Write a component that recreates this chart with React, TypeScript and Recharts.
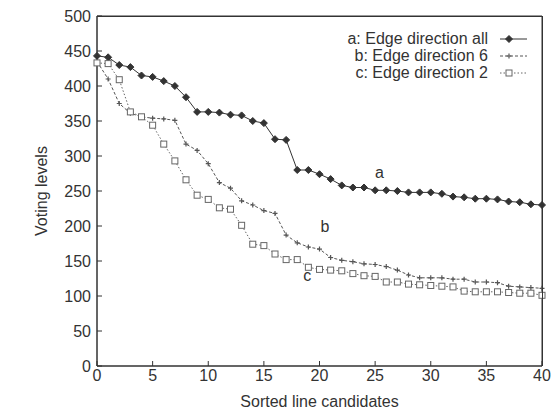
import {
  Line,
  LineChart,
  ReferenceArea,
  ReferenceDot,
  XAxis,
  YAxis,
} from "recharts";

const candidates = Array.from({ length: 41 }, (_, i) => i);

const edgeAll = [
  443, 441, 430, 427, 415, 413, 407, 400, 384, 363, 363, 362, 359, 358, 350,
  347, 324, 323, 280, 280, 274, 267, 258, 255, 255, 251, 251, 250, 248, 248,
  248, 246, 242, 241, 239, 239, 238, 235, 234, 231, 230,
];
const edge6 = [
  435, 410, 375, 361, 356, 354, 353, 351, 317, 308, 289, 262, 254, 236, 230,
  222, 218, 187, 176, 170, 167, 155, 151, 149, 146, 145, 142, 137, 130, 126,
  126, 126, 124, 124, 120, 120, 119, 114, 113, 112, 111,
];
const edge2 = [
  433, 432, 409, 363, 356, 344, 317, 293, 266, 244, 238, 226, 224, 201, 174,
  172, 160, 152, 152, 141, 138, 137, 136, 132, 129, 128, 120, 120, 117, 116,
  115, 114, 113, 107, 106, 106, 106, 105, 104, 104, 101,
];

const xTicks = [0, 5, 10, 15, 20, 25, 30, 35, 40];
const yTicks = [0, 50, 100, 150, 200, 250, 300, 350, 400, 450, 500];

const seriesNames = [
  "a: Edge direction all",
  "b: Edge direction 6",
  "c: Edge direction 2",
];
const curveLabels = [
  { text: "a", x: 25.4, y: 277 },
  { text: "b", x: 20.5, y: 200 },
  { text: "c", x: 18.9, y: 130 },
];

const data = candidates.map((x, i) => ({
  x,
  a: edgeAll[i],
  b: edge6[i],
  c: edge2[i],
}));

const FONT = "'Liberation Sans', Arial, sans-serif";
const INK = "#333";

// chart geometry
const W = 551;
const H = 409;
const M = { top: 16, right: 9, bottom: 0, left: 0 };
const Y_AXIS_W = 97;
const X_AXIS_H = 43;

function Diamond({ cx, cy, color }: any) {
  return (
    <path
      d={`M${cx},${cy - 3.5}L${cx + 3.5},${cy}L${cx},${cy + 3.5}L${cx - 3.5},${cy}Z`}
      fill={color}
      stroke={color}
    />
  );
}

function Plus({ cx, cy, color }: any) {
  return (
    <path
      d={`M${cx - 2.5},${cy}H${cx + 2.5}M${cx},${cy - 2.5}V${cy + 2.5}`}
      stroke={color}
      strokeWidth={1.2}
    />
  );
}

function Square({ cx, cy, color }: any) {
  return (
    <rect
      x={cx - 3}
      y={cy - 3}
      width={6}
      height={6}
      fill="#fff"
      stroke={color}
      strokeWidth={1}
    />
  );
}

const STYLES = [
  { key: "a", color: "#333", dash: undefined, Mark: Diamond },
  { key: "b", color: "#555", dash: "3 2", Mark: Plus },
  { key: "c", color: "#666", dash: "1.5 2", Mark: Square },
];

function LegendBox() {
  return (
    <div
      style={{
        position: "absolute",
        top: 30,
        right: 18,
        fontFamily: FONT,
        fontSize: 16,
        color: INK,
      }}
    >
      {STYLES.map((s, i) => (
        <div
          key={s.key}
          style={{
            display: "flex",
            alignItems: "center",
            justifyContent: "flex-end",
            height: 17,
          }}
        >
          <span>{seriesNames[i]}</span>
          <svg width={36} height={12} style={{ marginLeft: 9 }}>
            <line
              x1={3}
              x2={30}
              y1={6}
              y2={6}
              stroke={s.color}
              strokeDasharray={s.dash}
            />
            <s.Mark cx={12} cy={6} color={s.color} />
          </svg>
        </div>
      ))}
    </div>
  );
}

export default function App() {
  const plotLeft = M.left + Y_AXIS_W;
  const plotW = W - plotLeft - M.right;
  const plotH = H - M.top - M.bottom - X_AXIS_H;
  return (
    <div
      style={{
        position: "absolute",
        left: 0,
        top: 0,
        width: W,
        height: H,
        background: "#fff",
      }}
    >
      <LineChart width={W} height={H} data={data} margin={M}>
        <XAxis
          dataKey="x"
          type="number"
          domain={[0, 40]}
          ticks={xTicks}
          height={X_AXIS_H}
          tickSize={-5}
          tickMargin={9}
          stroke={INK}
          tick={{ fill: INK, fontSize: 16, fontFamily: FONT }}
          label={{
            value: "Sorted line candidates",
            position: "insideBottom",
            offset: 2,
            fill: INK,
            fontSize: 16,
            fontFamily: FONT,
          }}
        />
        <YAxis
          type="number"
          domain={[0, 500]}
          ticks={yTicks}
          width={Y_AXIS_W}
          tickSize={-5}
          tickMargin={11}
          stroke={INK}
          tick={{ fill: INK, fontSize: 16, fontFamily: FONT }}
          label={{
            value: "Voting levels",
            angle: -90,
            position: "insideLeft",
            offset: 41,
            style: { textAnchor: "middle" },
            fill: INK,
            fontSize: 16,
            fontFamily: FONT,
          }}
        />
        <ReferenceArea
          x1={0}
          x2={40}
          y1={0}
          y2={500}
          fill="none"
          fillOpacity={0}
          stroke={INK}
          strokeOpacity={1}
          ifOverflow="visible"
        />
        {STYLES.map((s) => (
          <Line
            key={s.key}
            dataKey={s.key}
            type="linear"
            stroke={s.color}
            strokeWidth={1}
            strokeDasharray={s.dash}
            dot={(p: any) => (
              <s.Mark
                key={`${s.key}-${p.index}`}
                cx={p.cx}
                cy={p.cy}
                color={s.color}
              />
            )}
            activeDot={false}
            isAnimationActive={false}
          />
        ))}
        {curveLabels.map((l) => (
          <ReferenceDot
            key={l.text}
            x={l.x}
            y={l.y}
            r={0}
            stroke="none"
            label={{
              value: l.text,
              position: "center",
              fill: INK,
              fontSize: 16,
              fontFamily: FONT,
            }}
          />
        ))}
      </LineChart>
      {/* top and right frame of the plot box */}
      <div
        style={{
          position: "absolute",
          left: plotLeft,
          top: M.top,
          width: plotW + 1,
          height: plotH,
          boxSizing: "border-box",
          borderTop: `1px solid ${INK}`,
          borderRight: `1px solid ${INK}`,
          pointerEvents: "none",
        }}
      />
      <LegendBox />
    </div>
  );
}
